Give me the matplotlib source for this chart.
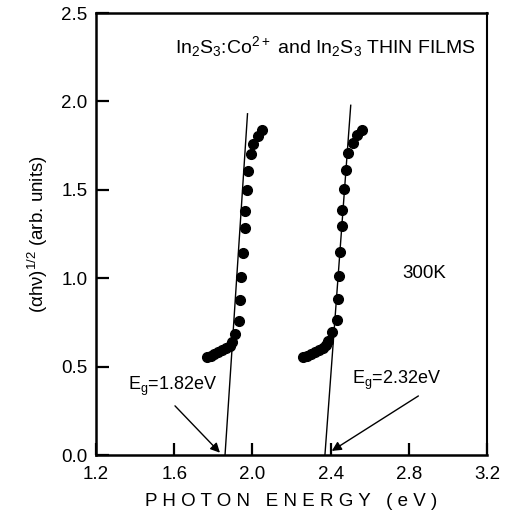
import matplotlib
matplotlib.use("Agg")
import matplotlib.pyplot as plt

plt.rcParams['font.family'] = ['Liberation Sans', 'DejaVu Sans']
plt.rcParams['mathtext.fontset'] = 'custom'
plt.rcParams['mathtext.rm'] = 'Liberation Sans'
plt.rcParams['mathtext.it'] = 'Liberation Sans:italic'

# In2S3:Co2+ film
energy_doped = [1.766, 1.786, 1.806, 1.826, 1.846, 1.866, 1.885, 1.894, 1.911,
                1.933, 1.937, 1.942, 1.950, 1.962, 1.962, 1.971, 1.978, 1.991,
                2.005, 2.030, 2.048]
alpha_doped = [0.552, 0.562, 0.571, 0.581, 0.592, 0.604, 0.618, 0.637, 0.684,
               0.760, 0.877, 1.005, 1.141, 1.285, 1.378, 1.497, 1.604, 1.701,
               1.757, 1.803, 1.837]

# In2S3 film
energy_pure = [2.260, 2.280, 2.300, 2.320, 2.340, 2.360, 2.378, 2.388, 2.409,
               2.431, 2.440, 2.443, 2.448, 2.457, 2.460, 2.469, 2.479, 2.491,
               2.513, 2.533, 2.559]
alpha_pure = [0.552, 0.562, 0.571, 0.581, 0.592, 0.604, 0.620, 0.646, 0.693,
              0.765, 0.883, 1.015, 1.147, 1.294, 1.383, 1.502, 1.614, 1.708,
              1.765, 1.812, 1.841]

# Linear extrapolations of the absorption edges
fit_doped_x = [1.860, 1.975]
fit_doped_y = [0.0, 1.93]
fit_pure_x = [2.371, 2.503]
fit_pure_y = [0.0, 1.978]

x_ticks = [1.2, 1.6, 2.0, 2.4, 2.8, 3.2]
y_ticks = [0.0, 0.5, 1.0, 1.5, 2.0, 2.5]

fig = plt.figure(figsize=(5.07, 5.26), dpi=100)
ax = fig.add_axes([96 / 507, 71 / 526, 391 / 507, 442 / 526])

ax.plot(fit_doped_x, fit_doped_y, color='black', lw=1.0)
ax.plot(fit_pure_x, fit_pure_y, color='black', lw=1.0)
ax.plot(energy_doped, alpha_doped, 'o', color='black', ms=7, mec='black')
ax.plot(energy_pure, alpha_pure, 'o', color='black', ms=7, mec='black')

ax.set_xlim(1.2, 3.2)
ax.set_ylim(0.0, 2.5)
ax.set_xticks(x_ticks)
ax.set_yticks(y_ticks)
ax.set_xticklabels([f"{v:.1f}" for v in x_ticks], fontsize=13.5)
ax.set_yticklabels([f"{v:.1f}" for v in y_ticks], fontsize=13.5)
ax.tick_params(direction='in', length=9, width=1.6, top=False, right=False, pad=6)
ax.tick_params(axis='x', pad=8)
for side in ['left', 'bottom', 'top']:
    ax.spines[side].set_linewidth(1.8)
ax.spines['right'].set_linewidth(1.5)

ax.set_xlabel("P H O T O N   E N E R G Y   ( e V )", fontsize=13.5, labelpad=7)
ax.set_ylabel(r"(αhν)$^{1/2}$ (arb. units)", fontsize=13.5, labelpad=8)

ax.text(0.586, 0.923, r"In$_2$S$_3$:Co$^{2+}$ and In$_2$S$_3$ THIN FILMS",
        transform=ax.transAxes, ha='center', va='center', fontsize=14)
ax.text(2.765, 1.026, "300K", ha='left', va='center', fontsize=13.5)

ax.annotate("", xy=(1.834, 0.013), xytext=(1.604, 0.278),
            arrowprops=dict(arrowstyle='-|>', color='black', lw=1.0,
                            mutation_scale=14, shrinkA=0, shrinkB=0))
ax.annotate("", xy=(2.406, 0.023), xytext=(2.849, 0.334),
            arrowprops=dict(arrowstyle='-|>', color='black', lw=1.0,
                            mutation_scale=14, shrinkA=0, shrinkB=0))
ax.text(1.364, 0.39, r"E$_{\mathrm{g}}$=1.82eV", ha='left', va='center', fontsize=13)
ax.text(2.508, 0.42, r"E$_{\mathrm{g}}$=2.32eV", ha='left', va='center', fontsize=13)

fig.savefig("out.png", dpi=100)
